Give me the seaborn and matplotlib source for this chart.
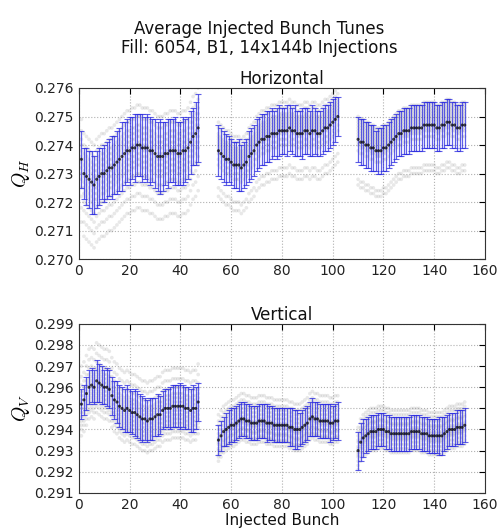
import numpy as np
import pandas as pd
import matplotlib
matplotlib.use("Agg")
import matplotlib.pyplot as plt
import seaborn as sns

# ---------------- data ----------------
train_start = [1, 55, 110]

H_mean1 = [0.2735, 0.2730, 0.2729, 0.2728, 0.2727, 0.2726, 0.2728, 0.2729, 0.2730, 0.2730,
           0.2731, 0.2732, 0.2732, 0.2733, 0.2734, 0.2735, 0.2736, 0.2737, 0.2738, 0.2738,
           0.2739, 0.2739, 0.2740, 0.2740, 0.2739, 0.2739, 0.2739, 0.2738, 0.2738, 0.2737,
           0.2736, 0.2736, 0.2736, 0.2737, 0.2737, 0.2738, 0.2738, 0.2738, 0.2737, 0.2737,
           0.2738, 0.2738, 0.2739, 0.2741, 0.2743, 0.2744, 0.2746]
H_err1 = [0.0010, 0.0009, 0.0010, 0.0010, 0.0011, 0.0010, 0.0010, 0.0010, 0.0009, 0.0010,
          0.0010, 0.0010, 0.0011, 0.0010, 0.0011, 0.0011, 0.0012, 0.0011, 0.0011, 0.0012,
          0.0011, 0.0012, 0.0011, 0.0011, 0.0012, 0.0011, 0.0012, 0.0012, 0.0011, 0.0012,
          0.0012, 0.0013, 0.0012, 0.0011, 0.0012, 0.0011, 0.0011, 0.0012, 0.0011, 0.0011,
          0.0012, 0.0011, 0.0011, 0.0011, 0.0010, 0.0011, 0.0012]
H_mean2 = [0.2738, 0.2737, 0.2736, 0.2735, 0.2735, 0.2734, 0.2733, 0.2733, 0.2733, 0.2732,
           0.2733, 0.2734, 0.2736, 0.2737, 0.2738, 0.2740, 0.2741, 0.2742, 0.2742, 0.2743,
           0.2743, 0.2744, 0.2744, 0.2744, 0.2745, 0.2745, 0.2745, 0.2745, 0.2746, 0.2745,
           0.2745, 0.2744, 0.2744, 0.2744, 0.2745, 0.2745, 0.2744, 0.2745, 0.2745, 0.2744,
           0.2744, 0.2745, 0.2746, 0.2746, 0.2747, 0.2748, 0.2749, 0.2750]
H_err2 = [0.0009, 0.0009, 0.0009, 0.0009, 0.0008, 0.0008, 0.0008, 0.0008, 0.0009, 0.0008,
          0.0008, 0.0008, 0.0009, 0.0009, 0.0009, 0.0009, 0.0009, 0.0009, 0.0009, 0.0009,
          0.0009, 0.0009, 0.0008, 0.0009, 0.0009, 0.0008, 0.0008, 0.0009, 0.0008, 0.0008,
          0.0009, 0.0008, 0.0008, 0.0009, 0.0008, 0.0008, 0.0008, 0.0009, 0.0008, 0.0008,
          0.0008, 0.0008, 0.0008, 0.0008, 0.0008, 0.0008, 0.0008, 0.0007]
H_mean3 = [0.2742, 0.2741, 0.2741, 0.2740, 0.2740, 0.2739, 0.2739, 0.2738, 0.2738, 0.2738,
           0.2739, 0.2739, 0.2740, 0.2741, 0.2742, 0.2743, 0.2744, 0.2744, 0.2745, 0.2745,
           0.2745, 0.2746, 0.2746, 0.2746, 0.2746, 0.2746, 0.2747, 0.2747, 0.2747, 0.2747,
           0.2747, 0.2746, 0.2746, 0.2747, 0.2747, 0.2748, 0.2748, 0.2747, 0.2747, 0.2746,
           0.2746, 0.2747, 0.2747]
H_err3 = [0.0008, 0.0008, 0.0008, 0.0008, 0.0008, 0.0008, 0.0008, 0.0007, 0.0008, 0.0008,
          0.0008, 0.0008, 0.0008, 0.0008, 0.0008, 0.0008, 0.0008, 0.0008, 0.0008, 0.0008,
          0.0008, 0.0008, 0.0008, 0.0008, 0.0008, 0.0008, 0.0008, 0.0008, 0.0008, 0.0008,
          0.0008, 0.0008, 0.0008, 0.0008, 0.0008, 0.0008, 0.0008, 0.0008, 0.0008, 0.0008,
          0.0008, 0.0008, 0.0008]

V_mean1 = [0.2952, 0.2954, 0.2957, 0.2960, 0.2961, 0.2960, 0.2963, 0.2962, 0.2961, 0.2960,
           0.2960, 0.2959, 0.2956, 0.2954, 0.2953, 0.2951, 0.2950, 0.2949, 0.2950, 0.2949,
           0.2948, 0.2948, 0.2947, 0.2946, 0.2945, 0.2945, 0.2944, 0.2945, 0.2945, 0.2946,
           0.2947, 0.2947, 0.2949, 0.2950, 0.2950, 0.2950, 0.2951, 0.2951, 0.2951, 0.2951,
           0.2951, 0.2950, 0.2950, 0.2949, 0.2950, 0.2950, 0.2953]
V_err1 = [0.0007, 0.0007, 0.0008, 0.0008, 0.0008, 0.0008, 0.0010, 0.0009, 0.0009, 0.0008,
          0.0009, 0.0009, 0.0009, 0.0009, 0.0010, 0.0010, 0.0010, 0.0010, 0.0011, 0.0010,
          0.0010, 0.0011, 0.0011, 0.0011, 0.0011, 0.0010, 0.0010, 0.0010, 0.0010, 0.0009,
          0.0010, 0.0009, 0.0009, 0.0009, 0.0009, 0.0010, 0.0010, 0.0010, 0.0010, 0.0011,
          0.0010, 0.0010, 0.0010, 0.0010, 0.0011, 0.0010, 0.0009]
V_mean2 = [0.2935, 0.2937, 0.2939, 0.2940, 0.2941, 0.2942, 0.2942, 0.2943, 0.2944, 0.2945,
           0.2945, 0.2944, 0.2944, 0.2943, 0.2943, 0.2943, 0.2944, 0.2944, 0.2944, 0.2943,
           0.2943, 0.2943, 0.2942, 0.2942, 0.2942, 0.2942, 0.2942, 0.2942, 0.2941, 0.2941,
           0.2940, 0.2940, 0.2940, 0.2941, 0.2942, 0.2943, 0.2945, 0.2946, 0.2945, 0.2945,
           0.2944, 0.2944, 0.2944, 0.2944, 0.2943, 0.2943, 0.2944, 0.2944]
V_err2 = [0.0007, 0.0007, 0.0007, 0.0008, 0.0008, 0.0008, 0.0008, 0.0008, 0.0008, 0.0008,
          0.0008, 0.0008, 0.0008, 0.0008, 0.0008, 0.0008, 0.0008, 0.0008, 0.0008, 0.0009,
          0.0008, 0.0008, 0.0008, 0.0008, 0.0008, 0.0008, 0.0008, 0.0008, 0.0009, 0.0009,
          0.0009, 0.0009, 0.0008, 0.0008, 0.0008, 0.0008, 0.0008, 0.0009, 0.0008, 0.0008,
          0.0008, 0.0008, 0.0008, 0.0008, 0.0009, 0.0008, 0.0008, 0.0009]
V_mean3 = [0.2930, 0.2934, 0.2936, 0.2937, 0.2938, 0.2939, 0.2939, 0.2939, 0.2940, 0.2940,
           0.2940, 0.2939, 0.2939, 0.2938, 0.2938, 0.2938, 0.2938, 0.2938, 0.2938, 0.2938,
           0.2938, 0.2939, 0.2939, 0.2939, 0.2939, 0.2938, 0.2938, 0.2938, 0.2937, 0.2937,
           0.2937, 0.2937, 0.2937, 0.2937, 0.2938, 0.2939, 0.2940, 0.2940, 0.2940, 0.2941,
           0.2941, 0.2941, 0.2942]
V_err3 = [0.0009, 0.0009, 0.0009, 0.0008, 0.0008, 0.0008, 0.0008, 0.0008, 0.0008, 0.0008,
          0.0008, 0.0008, 0.0008, 0.0008, 0.0008, 0.0008, 0.0008, 0.0008, 0.0008, 0.0008,
          0.0008, 0.0008, 0.0008, 0.0008, 0.0008, 0.0008, 0.0008, 0.0008, 0.0008, 0.0008,
          0.0008, 0.0008, 0.0009, 0.0009, 0.0008, 0.0008, 0.0008, 0.0008, 0.0008, 0.0008,
          0.0008, 0.0008, 0.0008]

# per-injection deviations from the train average (read from the grey cloud)
H_off1 = [0.0014, 0.0010, 0.0007, 0.0005, 0.0003, 0.0001, -0.0001, -0.0003, -0.0005, -0.0007, -0.0010, -0.0013, -0.0017, -0.0022]
H_off2 = [0.0010, 0.0008, 0.0006, 0.0005, 0.0004, 0.0003, 0.0002, 0.0001, 0.0000, -0.0001, -0.0003, -0.0005, -0.0013, -0.0016]
H_off3 = [0.0008, 0.0007, 0.0006, 0.0005, 0.0004, 0.0003, 0.0002, 0.0001, 0.0000, -0.0001, -0.0002, -0.0004, -0.0014, -0.0016]
V_off1 = [0.0018, 0.0013, 0.0009, 0.0006, 0.0004, 0.0002, 0.0000, -0.0002, -0.0004, -0.0006, -0.0008, -0.0010, -0.0012, -0.0015]
V_off2 = [0.0012, 0.0009, 0.0007, 0.0005, 0.0003, 0.0001, 0.0000, -0.0001, -0.0002, -0.0004, -0.0005, -0.0007, -0.0008, -0.0010]
V_off3 = [0.0011, 0.0009, 0.0007, 0.0005, 0.0004, 0.0002, 0.0001, 0.0000, -0.0001, -0.0002, -0.0003, -0.0005, -0.0007, -0.0009]

x_ticks = [0, 20, 40, 60, 80, 100, 120, 140, 160]
H_ticks = [0.270, 0.271, 0.272, 0.273, 0.274, 0.275, 0.276]
V_ticks = [0.291, 0.292, 0.293, 0.294, 0.295, 0.296, 0.297, 0.298, 0.299]

# ---------------- style ----------------
sns.set_style("white", {
    "axes.edgecolor": "black",
    "axes.grid": True,
    "grid.color": "#b0b0b0",
    "grid.linestyle": ":",
    "xtick.direction": "in",
    "ytick.direction": "in",
    "text.color": "black",
    "axes.labelcolor": "black",
    "xtick.color": "black",
    "ytick.color": "black",
})
plt.rcParams["font.family"] = ["DejaVu Sans"]
plt.rcParams["mathtext.fontset"] = "cm"


def build(means, errs, offs):
    rows, pts = [], []
    for start, m, e, o in zip(train_start, means, errs, offs):
        for i, (mv, ev) in enumerate(zip(m, e)):
            rows.append((start + i, mv, ev))
            for ov in o:
                pts.append((start + i, mv + ov))
    return (pd.DataFrame(rows, columns=["bunch", "mean", "err"]),
            pd.DataFrame(pts, columns=["bunch", "tune"]))


H_df, H_pts = build([H_mean1, H_mean2, H_mean3], [H_err1, H_err2, H_err3], [H_off1, H_off2, H_off3])
V_df, V_pts = build([V_mean1, V_mean2, V_mean3], [V_err1, V_err2, V_err3], [V_off1, V_off2, V_off3])

fig = plt.figure(figsize=(4.99, 5.30), dpi=100)
ax1 = fig.add_axes([0.158, 0.511, 0.814, 0.323])
ax2 = fig.add_axes([0.158, 0.070, 0.814, 0.319])

for ax, df, pts, ticks, title, lab in [
    (ax1, H_df, H_pts, H_ticks, "Horizontal", r"$Q_H$"),
    (ax2, V_df, V_pts, V_ticks, "Vertical", r"$Q_V$"),
]:
    sns.scatterplot(data=pts, x="bunch", y="tune", ax=ax, color="#8c8c8c",
                    s=7, alpha=0.2, edgecolor="none", legend=False, zorder=1)
    ax.errorbar(df["bunch"], df["mean"], yerr=df["err"], fmt="none",
                ecolor="#2a2ae0", elinewidth=0.9, capsize=2, capthick=0.8,
                alpha=0.75, zorder=2)
    sns.scatterplot(data=df, x="bunch", y="mean", ax=ax, color="black",
                    s=5, alpha=0.7, edgecolor="none", legend=False, zorder=3)
    ax.set_xlim(0, 160)
    ax.set_ylim(ticks[0], ticks[-1])
    ax.set_xticks(x_ticks)
    ax.set_yticks(ticks)
    ax.set_yticklabels([f"{t:.3f}" for t in ticks])
    ax.tick_params(labelsize=10, top=True, right=True, length=4, width=0.8,
                   colors="black", labelcolor="#222222")
    ax.set_title(title, fontsize=12, pad=3, color="#111111")
    ax.set_ylabel(lab, fontsize=14, labelpad=2)
    ax.set_xlabel("")
    for sp in ax.spines.values():
        sp.set_color("#333333")
        sp.set_linewidth(0.8)
    ax.set_axisbelow(True)

ax2.set_xlabel("Injected Bunch", fontsize=11, labelpad=1, color="#111111")

fig.text(0.52, 0.928, "Average Injected Bunch Tunes\nFill: 6054, B1, 14x144b Injections",
         ha="center", va="center", fontsize=12, linespacing=1.05, color="#111111")

fig.savefig("out.png", dpi=100)
